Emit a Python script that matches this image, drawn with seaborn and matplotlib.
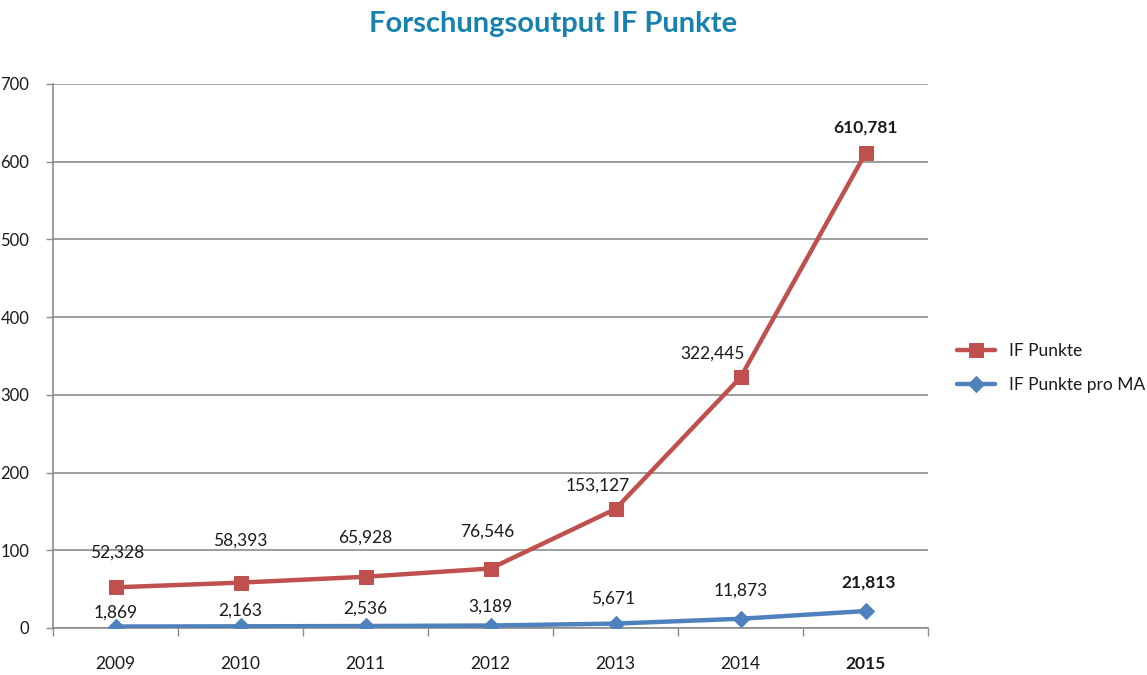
import matplotlib
matplotlib.use("Agg")
import matplotlib.pyplot as plt
import seaborn as sns
import pandas as pd
import numpy as np
from matplotlib.ticker import FixedLocator, MultipleLocator

years = ["2009", "2010", "2011", "2012", "2013", "2014", "2015"]
if_punkte = [52.328, 58.393, 65.928, 76.546, 153.127, 322.445, 610.781]
if_pro_ma = [1.869, 2.163, 2.536, 3.189, 5.671, 11.873, 21.813]
series_names = ["IF Punkte", "IF Punkte pro MA"]

sns.set_theme(style="white")
plt.rcParams["font.family"] = ["Lato", "DejaVu Sans"]

red = "#C0504D"
blue = "#4F81BD"
grid_c = "#8C8C8C"
text_c = "#1A1A1A"

fig = plt.figure(figsize=(11.47, 6.75), dpi=100)
ax = fig.add_axes([53/1147, 47/675, (928-53)/1147, (628-84)/675])

x = np.arange(len(years))
df = pd.DataFrame({"x": x, "y": if_punkte})
df2 = pd.DataFrame({"x": x, "y": if_pro_ma})

sns.lineplot(data=df, x="x", y="y", ax=ax, color=red, linewidth=3.2, marker="s",
             markersize=10.5, markeredgecolor=red, label=series_names[0], zorder=4)
sns.lineplot(data=df2, x="x", y="y", ax=ax, color=blue, linewidth=3.2, marker="D",
             markersize=8, markeredgecolor=blue, label=series_names[1], zorder=4)

def fmt(v):
    return f"{v:.3f}".replace(".", ",")

red_off = [(2, 35), (0, 42), (0, 39), (-3, 37), (-18, 23), (-28, 24), (0, 26)]
blue_off = [(0, 14), (0, 16), (0, 17), (0, 19), (-2, 25), (0, 28), (3, 29)]
for i, v in enumerate(if_punkte):
    ax.annotate(fmt(v), (x[i], v), xytext=red_off[i], textcoords="offset pixels",
                ha="center", va="center", fontsize=12.5, color=text_c,
                fontweight="bold" if i == len(years) - 1 else "normal")
for i, v in enumerate(if_pro_ma):
    ax.annotate(fmt(v), (x[i], v), xytext=blue_off[i], textcoords="offset pixels",
                ha="center", va="center", fontsize=12.5, color=text_c,
                fontweight="bold" if i == len(years) - 1 else "normal")

ax.set_xlim(-0.5, len(years) - 0.5)
ax.set_ylim(0, 700)
ax.yaxis.set_major_locator(MultipleLocator(100))
ax.set_xticks(x)
ax.set_xticklabels(years)
ax.xaxis.set_minor_locator(FixedLocator(np.arange(-0.5, len(years), 1.0)))
ax.tick_params(axis="x", which="major", length=0, pad=20, labelsize=12.5, labelcolor=text_c)
ax.tick_params(axis="x", which="minor", length=6, width=1, color=grid_c, direction="out", bottom=True)
ax.tick_params(axis="y", which="major", length=5, width=1, color=grid_c, direction="out",
               left=True, labelsize=12, labelcolor=text_c, pad=12)
ax.get_xticklabels()[-1].set_fontweight("bold")
ax.set_xlabel("")
ax.set_ylabel("")
ax.grid(axis="y", color=grid_c, linewidth=1.2)
ax.grid(axis="x", visible=False)
ax.set_axisbelow(True)
for s in ["top", "right"]:
    ax.spines[s].set_visible(False)
for s in ["left", "bottom"]:
    ax.spines[s].set_color(grid_c)
    ax.spines[s].set_linewidth(1.2)

leg = ax.legend(loc="center left", bbox_to_anchor=(1.015, 0.478), frameon=False,
                fontsize=12.5, handlelength=2.2, handletextpad=0.8, labelspacing=1.0)
for t in leg.get_texts():
    t.set_color(text_c)

fig.text(0.482, 0.965, "Forschungsoutput IF Punkte", ha="center", va="center",
         fontsize=21, fontweight="bold", color="#1782B0")

fig.savefig("out.png", dpi=100)
